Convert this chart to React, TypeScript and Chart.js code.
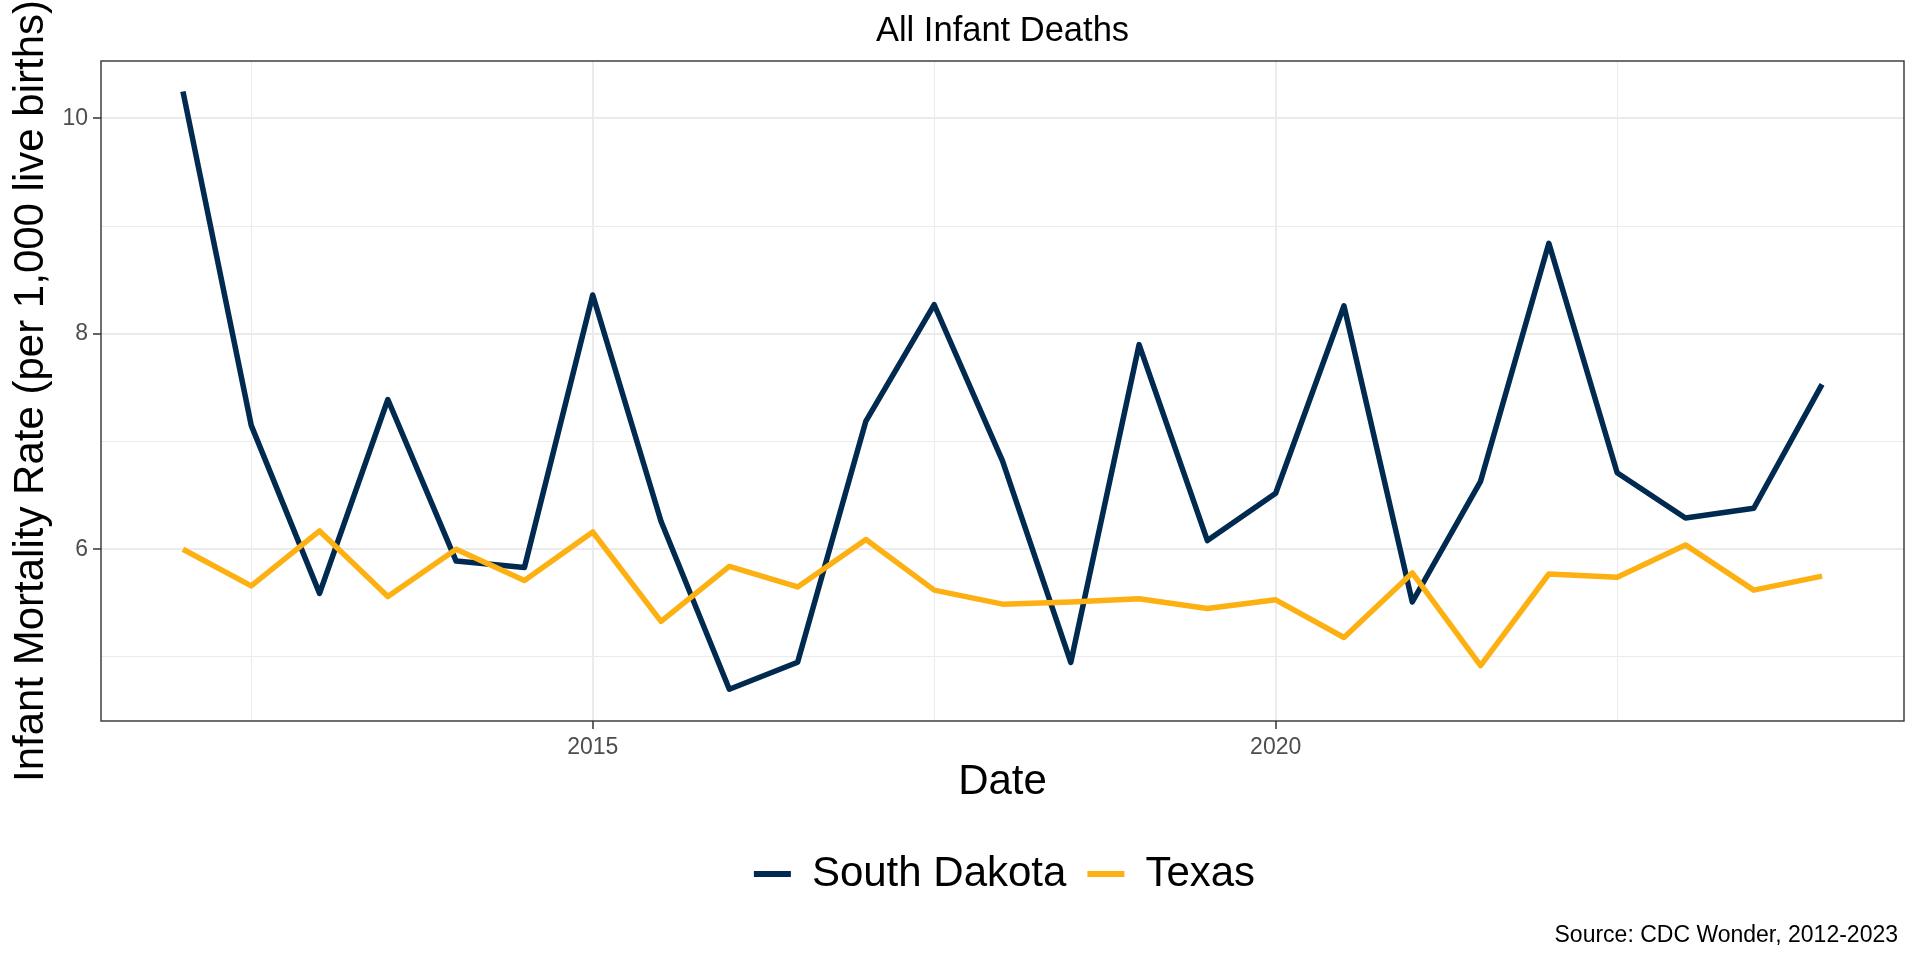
import React, { useEffect, useRef } from "react";
import { Chart, registerables } from "chart.js";

Chart.register(...registerables);

// ---- data ----
const dates = [
  2012.0, 2012.5, 2013.0, 2013.5, 2014.0, 2014.5, 2015.0, 2015.5, 2016.0,
  2016.5, 2017.0, 2017.5, 2018.0, 2018.5, 2019.0, 2019.5, 2020.0, 2020.5,
  2021.0, 2021.5, 2022.0, 2022.5, 2023.0, 2023.5, 2024.0,
];
const southDakota = [
  10.25, 7.15, 5.59, 7.39, 5.89, 5.83, 8.36, 6.26, 4.7, 4.95, 7.19, 8.27, 6.82,
  4.95, 7.9, 6.08, 6.52, 8.26, 5.51, 6.63, 8.84, 6.71, 6.29, 6.38, 7.53,
];
const texas = [
  6.0, 5.66, 6.17, 5.56, 6.0, 5.71, 6.16, 5.33, 5.84, 5.65, 6.09, 5.62, 5.49,
  5.51, 5.54, 5.45, 5.53, 5.18, 5.78, 4.92, 5.77, 5.74, 6.04, 5.62, 5.75,
];
const seriesNames = ["South Dakota", "Texas"];
const seriesColors = ["#002A4F", "#FDB012"];

const xGridValues = [2012.5, 2015, 2017.5, 2020, 2022.5];
const xTickLabels = [2015, 2020];
const yGridValues = [5, 6, 7, 8, 9, 10];
const yTickLabels = [6, 8, 10];
const xLimits = [2011.4, 2024.6];
const yLimits = [4.405, 10.533];

const titleText = "All Infant Deaths";
const captionText = "Source: CDC Wonder, 2012-2023";
const xTitleText = "Date";
const yTitleText = "Infant Mortality Rate (per 1,000 live births)";

const FONT = "'Liberation Sans', Arial, Helvetica, sans-serif";

export default function App() {
  const ref = useRef<HTMLCanvasElement | null>(null);

  useEffect(() => {
    document.body.style.margin = "0";
    const canvas = ref.current;
    if (!canvas) return;

    const panelPlugin = {
      id: "panelDecor",
      afterLayout(chart: any) {
        const lg = chart.legend;
        if (!lg) return;
        const ca = chart.chartArea;
        const center = (ca.left + ca.right) / 2 + 2;
        const w = lg.right - lg.left;
        lg.left = center - w / 2;
        lg.right = center + w / 2;
      },
      afterDatasetsDraw(chart: any) {
        const { ctx, chartArea: ca } = chart;
        ctx.save();
        ctx.strokeStyle = "#333333";
        ctx.lineWidth = 1.4;
        ctx.strokeRect(ca.left, ca.top, ca.right - ca.left, ca.bottom - ca.top);
        ctx.restore();
      },
      afterDraw(chart: any) {
        const { ctx, chartArea: ca } = chart;
        ctx.save();
        ctx.fillStyle = "#000000";
        ctx.textBaseline = "alphabetic";
        ctx.font = `34.5px ${FONT}`;
        ctx.textAlign = "center";
        ctx.fillText(titleText, (ca.left + ca.right) / 2, ca.top - 20.5);
        ctx.font = `23px ${FONT}`;
        ctx.textAlign = "right";
        ctx.fillText(captionText, chart.width - 22, chart.height - 18.5);
        ctx.restore();
      },
    };

    const gridCommon = (labels: number[]) => ({
      color: "#EBEBEB",
      lineWidth: (c: any) => (c.tick && labels.includes(c.tick.value) ? 2 : 1),
      tickLength: 8,
      tickWidth: 1.5,
      tickColor: (c: any) =>
        c.tick && labels.includes(c.tick.value) ? "#333333" : "rgba(0,0,0,0)",
      drawTicks: true,
    });

    const chart = new Chart(canvas, {
      type: "line",
      data: {
        datasets: seriesNames.map((name, si) => ({
          label: name,
          data: dates.map((d, i) => ({
            x: d,
            y: si === 0 ? southDakota[i] : texas[i],
          })),
          borderColor: seriesColors[si],
          backgroundColor: seriesColors[si],
          borderWidth: 5.5,
          pointRadius: 0,
          pointHoverRadius: 0,
          tension: 0,
          borderJoinStyle: "round" as const,
          borderCapStyle: "butt" as const,
          order: si === 0 ? 1 : 0,
        })),
      },
      options: {
        animation: false,
        responsive: false,
        events: [],
        layout: { padding: { top: 61, right: 16, bottom: 55, left: 0 } },
        scales: {
          x: {
            type: "linear",
            min: xLimits[0],
            max: xLimits[1],
            afterBuildTicks: (s: any) => {
              s.ticks = xGridValues.map((v) => ({ value: v }));
            },
            afterFit: (s: any) => {
              s.height = 111;
            },
            ticks: {
              autoSkip: false,
              maxRotation: 0,
              padding: 4.5,
              color: "#4D4D4D",
              font: { family: FONT, size: 23 },
              callback: (v: any) => (xTickLabels.includes(Number(v)) ? String(v) : ""),
            },
            grid: gridCommon(xTickLabels),
            border: { display: false },
            title: {
              display: true,
              text: xTitleText,
              color: "#000000",
              font: { family: FONT, size: 42 },
              padding: { top: 0, bottom: 24.5 },
            },
          },
          y: {
            type: "linear",
            min: yLimits[0],
            max: yLimits[1],
            afterBuildTicks: (s: any) => {
              s.ticks = yGridValues.map((v) => ({ value: v }));
            },
            afterFit: (s: any) => {
              s.width = 101;
            },
            ticks: {
              autoSkip: false,
              padding: 5,
              color: "#4D4D4D",
              font: { family: FONT, size: 23 },
              callback: (v: any) => (yTickLabels.includes(Number(v)) ? String(v) : ""),
            },
            grid: gridCommon(yTickLabels),
            border: { display: false },
            title: {
              display: true,
              text: yTitleText,
              color: "#000000",
              font: { family: FONT, size: 42 },
              padding: { top: 5.8, bottom: 0 },
            },
          },
        },
        plugins: {
          title: { display: false },
          tooltip: { enabled: false },
          legend: {
            display: true,
            position: "bottom",
            labels: {
              boxWidth: 37,
              boxHeight: 6,
              padding: 21,
              color: "#000000",
              font: { family: FONT, size: 42 },
              sort: (a: any, b: any) => a.datasetIndex - b.datasetIndex,
              generateLabels: (ch: any) =>
                (Chart.defaults.plugins.legend.labels as any)
                  .generateLabels(ch)
                  .map((l: any) => ({ ...l, lineWidth: 0, fillStyle: l.strokeStyle })),
            },
          },
        },
      },
      plugins: [panelPlugin],
    } as any);

    return () => {
      chart.destroy();
    };
  }, []);

  return (
    <canvas
      ref={ref}
      width={1920}
      height={960}
      style={{ display: "block", width: "1920px", height: "960px" }}
    />
  );
}
